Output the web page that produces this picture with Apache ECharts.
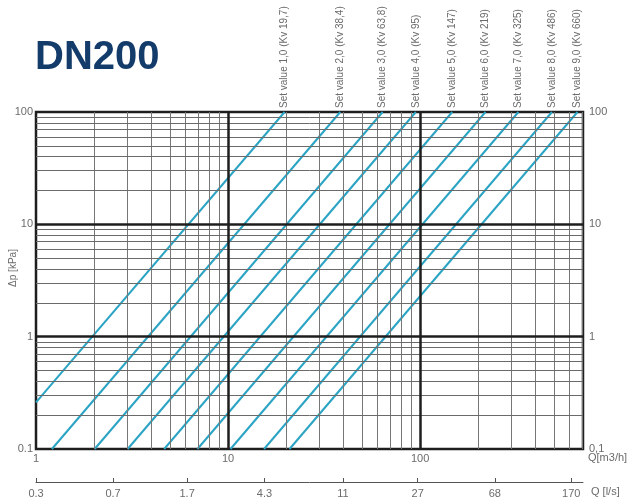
<!DOCTYPE html>
<html>
<head>
<meta charset="utf-8">
<script src="https://cdn.jsdelivr.net/npm/echarts@6/dist/echarts.min.js"></script>
<style>
html,body{margin:0;padding:0;background:#fff;}
#c{width:627px;height:504px;}
</style>
</head>
<body>
<div id="c"></div>
<script>
// ---- data ----
const setLabels = ['Set value 1,0 (Kv 19,7)','Set value 2,0 (Kv 38,4)','Set value 3,0 (Kv 63,8)','Set value 4,0 (Kv 95)','Set value 5,0 (Kv 147)','Set value 6,0 (Kv 219)','Set value 7,0 (Kv 325)','Set value 8,0 (Kv 486)','Set value 9,0 (Kv 660)'];
const qStart  = [1, 1.21, 2.02, 3.0, 4.65, 6.93, 10.3, 15.4, 20.9];
const dpStart = [0.26, 0.1, 0.1, 0.1, 0.1, 0.1, 0.1, 0.1, 0.1];
const qEnd    = [19.7, 38.4, 63.8, 95, 147, 219, 325, 486, 660];
const dpEnd   = [100, 100, 100, 100, 100, 100, 100, 100, 100];

const xTickValues = [1, 10, 100];
const xTickLabels = ['1', '10', '100'];
const yTickValues = [0.1, 1, 10, 100];
const yTickLabelsLeft  = ['0.1', '1', '10', '100'];
const yTickLabelsRight = ['0,1', '1', '10', '100'];
const lsTickValues = [0.278, 0.7, 1.7, 4.3, 11, 27, 68, 170];
const lsTickLabels = ['0.3', '0.7', '1.7', '4.3', '11', '27', '68', '170'];

const xMinorGrid = [2,3,4,5,6,7,8,9,20,30,40,50,60,70,80,90,200,300,400,500,600,700];
const xMajorGrid = [10, 100];
const yMinorGrid = [0.2,0.3,0.4,0.5,0.6,0.7,0.8,0.9,2,3,4,5,6,7,8,9,20,30,40,50,60,70,80,90];
const yMajorGrid = [1, 10];

const xMin = 1, xMax = 705, yMin = 0.1, yMax = 100;
const M3H_PER_LS = 3.6;

// ---- chart ----
const FONT = 'Liberation Sans, Arial, sans-serif';
const GRAY = '#6b6b6b';
const LINE = '#2ba4c4';

function lookup(vals, labels, v) {
  let best = 0, bd = Infinity;
  vals.forEach((x, i) => { const d = Math.abs(Math.log(x) - Math.log(v)); if (d < bd) { bd = d; best = i; } });
  return labels[best];
}

const chart = echarts.init(document.getElementById('c'), null, {renderer: 'canvas'});

const gridSeries = {
  type: 'line', data: [], z: 1, silent: true, animation: false,
  xAxisIndex: 0, yAxisIndex: 0,
  markLine: {
    silent: true, animation: false, symbol: ['none', 'none'], label: {show: false},
    data: [].concat(
      xMinorGrid.map(v => ({xAxis: v, lineStyle: {color: '#777', width: 1, type: 'solid'}})),
      yMinorGrid.map(v => ({yAxis: v, lineStyle: {color: '#6a6a6a', width: 1, type: 'solid'}})),
      xMajorGrid.map(v => ({xAxis: v, lineStyle: {color: '#1e1e1e', width: 2.5, type: 'solid'}})),
      yMajorGrid.map(v => ({yAxis: v, lineStyle: {color: '#1e1e1e', width: 2.5, type: 'solid'}}))
    )
  }
};

const curveSeries = setLabels.map((name, i) => ({
  type: 'line', name: name, z: 3, animation: false,
  xAxisIndex: 0, yAxisIndex: 0,
  showSymbol: true, showAllSymbol: true, symbolSize: 0, symbol: 'circle',
  lineStyle: {color: LINE, width: 2},
  itemStyle: {color: LINE},
  emphasis: {disabled: true},
  data: [
    [qStart[i], dpStart[i]],
    {value: [qEnd[i], dpEnd[i]], label: {
      show: true, formatter: name, position: 'top', distance: 4, rotate: 90,
      align: 'left', verticalAlign: 'middle', offset: [0, 0],
      color: GRAY, fontSize: 10, fontFamily: FONT
    }}
  ]
}));

chart.setOption({
  backgroundColor: '#fff',
  animation: false,
  textStyle: {fontFamily: FONT},
  grid: {left: 36, right: 44, top: 112, bottom: 55, containLabel: false, outerBoundsMode: 'none',
         show: true, borderColor: '#1e1e1e', borderWidth: 2.5, backgroundColor: 'transparent'},
  xAxis: [
    {type: 'log', logBase: 10, min: xMin, max: xMax, position: 'bottom',
     axisLine: {show: false}, axisTick: {show: false}, splitLine: {show: false},
     axisLabel: {customValues: xTickValues, color: GRAY, fontSize: 11, margin: 4, fontFamily: FONT,
                 formatter: v => lookup(xTickValues, xTickLabels, v)}},
    {type: 'log', logBase: 10, min: xMin / M3H_PER_LS, max: xMax / M3H_PER_LS, position: 'bottom', offset: 33,
     axisLine: {show: true, onZero: false, lineStyle: {color: '#555', width: 1}},
     axisTick: {show: true, customValues: lsTickValues, inside: true, length: 4, lineStyle: {color: '#555', width: 1}},
     splitLine: {show: false},
     axisLabel: {customValues: lsTickValues, color: GRAY, fontSize: 11, margin: 6, fontFamily: FONT,
                 formatter: v => lookup(lsTickValues, lsTickLabels, v)}}
  ],
  yAxis: [
    {type: 'log', logBase: 10, min: yMin, max: yMax, position: 'left',
     axisLine: {show: false}, axisTick: {show: false}, splitLine: {show: false},
     axisLabel: {customValues: yTickValues, color: GRAY, fontSize: 11, margin: 3, fontFamily: FONT,
                 formatter: v => lookup(yTickValues, yTickLabelsLeft, v)}},
    {type: 'log', logBase: 10, min: yMin, max: yMax, position: 'right',
     axisLine: {show: false}, axisTick: {show: false}, splitLine: {show: false},
     axisLabel: {customValues: yTickValues, color: GRAY, fontSize: 11, margin: 6, fontFamily: FONT,
                 formatter: v => lookup(yTickValues, yTickLabelsRight, v)}}
  ],
  graphic: [
    {type: 'text', left: 35, top: 38, style: {text: 'DN200', font: 'bold 40px ' + FONT, fill: '#143c6a'}},
    {type: 'text', x: 13, y: 268, rotation: Math.PI / 2, style: {text: 'Δp [kPa]', font: '10px ' + FONT, fill: GRAY, align: 'center', verticalAlign: 'middle'}},
    {type: 'text', x: 588, y: 452, style: {text: 'Q[m3/h]', font: '11px ' + FONT, fill: GRAY, align: 'left', verticalAlign: 'top'}},
    {type: 'text', x: 591, y: 492, style: {text: 'Q [l/s]', font: '11px ' + FONT, fill: GRAY, align: 'left', verticalAlign: 'middle'}}
  ],
  series: [gridSeries].concat(curveSeries)
});
</script>
</body>
</html>
